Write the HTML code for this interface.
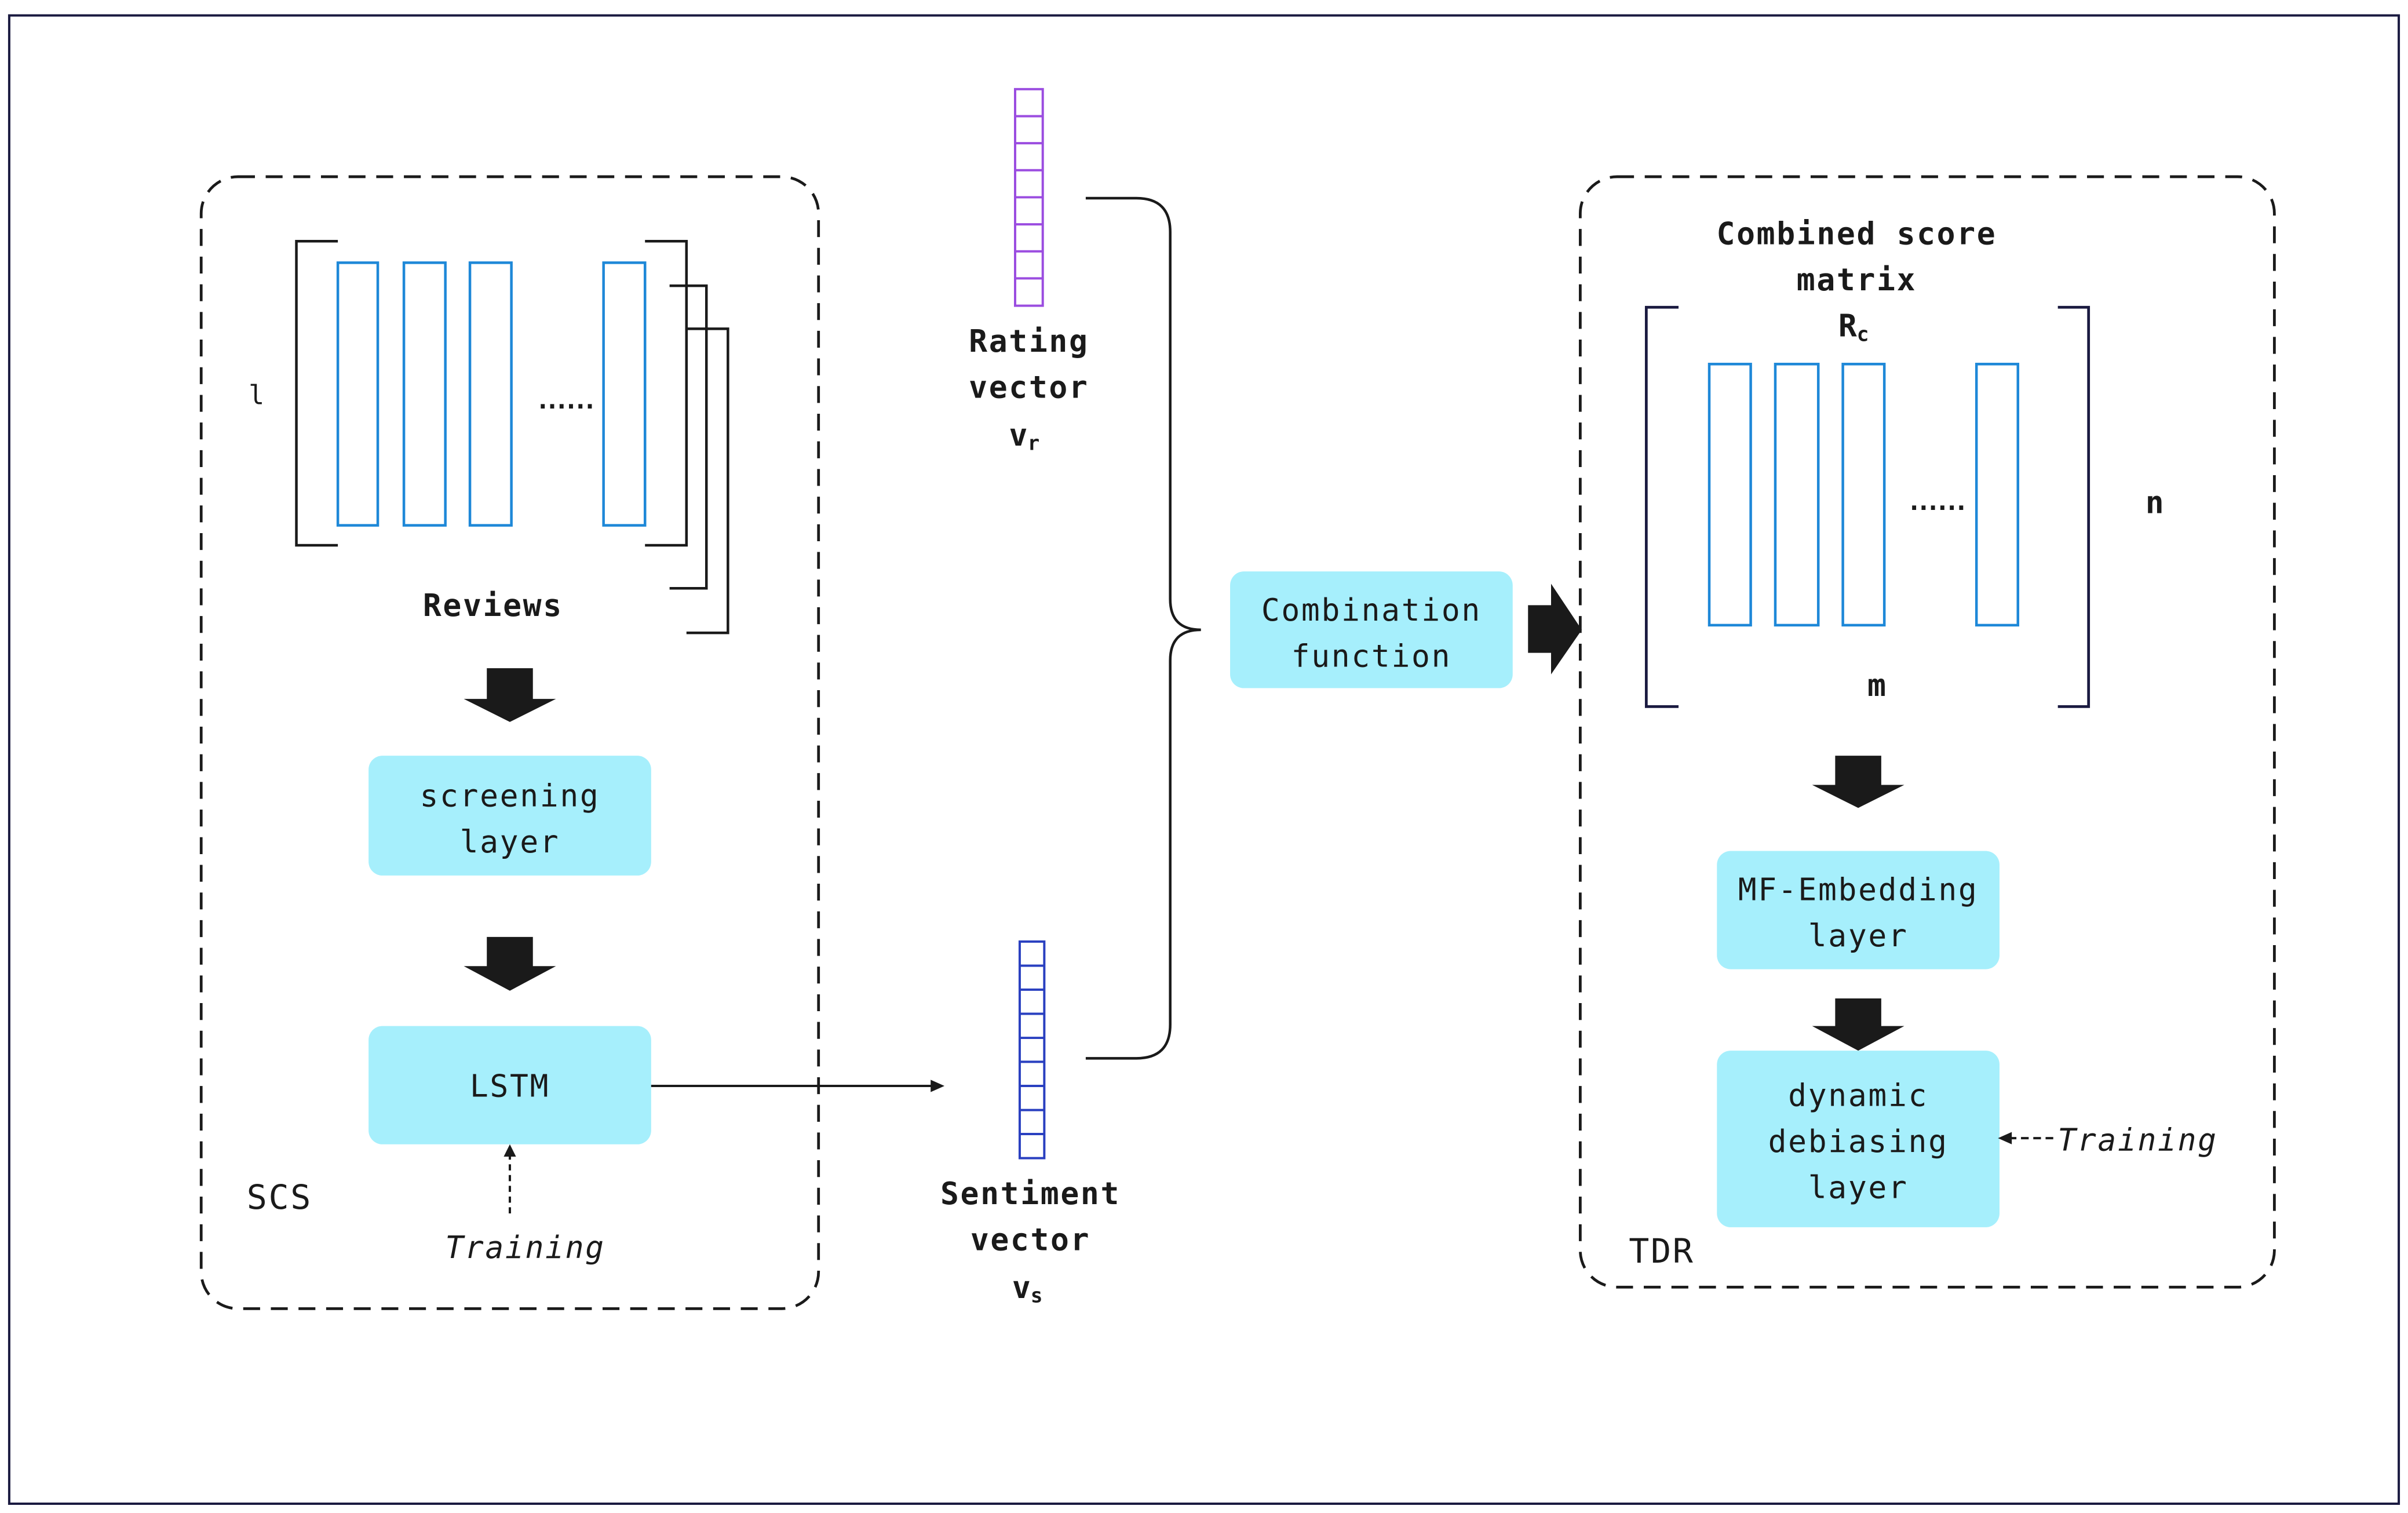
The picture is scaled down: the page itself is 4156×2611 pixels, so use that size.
<!DOCTYPE html>
<html><head><meta charset="utf-8"><style>
html,body{margin:0;padding:0;background:#fff;}
svg{display:block;}
text{font-family:"DejaVu Sans Mono","Liberation Mono",monospace;fill:#1a1a1a;}
.b{letter-spacing:1px;}
.d{letter-spacing:-3.5px;}
</style></head><body>
<svg width="4156" height="2611" viewBox="0 0 1568 985" xmlns="http://www.w3.org/2000/svg">
<rect x="0" y="0" width="1568" height="985" fill="#fff"/>
<rect x="6" y="10" width="1556" height="969" fill="none" stroke="#1a1a40" stroke-width="1.5"/>

<!-- SCS box -->
<rect x="131" y="115" width="402" height="737" rx="24" fill="none" stroke="#1a1a1a" stroke-width="1.8" stroke-dasharray="11,7"/>
<g fill="none" stroke="#1a1a1a" stroke-width="1.7">
<path d="M220 157 H193 V355 H220"/>
<path d="M420 157 H447 V355 H420"/>
<path d="M436 186 H460 V383 H436"/>
<path d="M447 214 H474 V412 H447"/>
</g>
<g fill="none" stroke="#1e88d8" stroke-width="1.7">
<rect x="220" y="171" width="26" height="171"/>
<rect x="263" y="171" width="27" height="171"/>
<rect x="306" y="171" width="27" height="171"/>
<rect x="393" y="171" width="27" height="171"/>
</g>
<text x="167" y="263" font-size="17" text-anchor="middle">l</text>
<text x="367" y="266" font-size="16" text-anchor="middle" font-weight="bold" class="d">......</text>
<text x="321" y="401" font-size="20" text-anchor="middle" font-weight="bold" class="b">Reviews</text>

<path d="M317 435 H347 V455 H362 L332 470 L302 455 H317 Z" fill="#1a1a1a"/>
<path d="M317 610 H347 V629 H362 L332 645 L302 629 H317 Z" fill="#1a1a1a"/>

<rect x="240" y="492" width="184" height="78" rx="9" fill="#a6effc"/>
<text x="332" y="525" font-size="20" text-anchor="middle" class="b">screening</text>
<text x="332" y="555" font-size="20" text-anchor="middle" class="b">layer</text>
<rect x="240" y="668" width="184" height="77" rx="9" fill="#a6effc"/>
<text x="332" y="714" font-size="20" text-anchor="middle" class="b">LSTM</text>
<line x1="332" y1="790" x2="332" y2="752" stroke="#1a1a1a" stroke-width="1.5" stroke-dasharray="4,3"/>
<path d="M332 745 L328 753 H336 Z" fill="#1a1a1a"/>
<text x="342" y="819" font-size="20" text-anchor="middle" font-style="italic" class="b">Training</text>
<text x="182" y="787" font-size="22" text-anchor="middle" class="b">SCS</text>

<line x1="424" y1="707" x2="608" y2="707" stroke="#1a1a1a" stroke-width="1.5"/>
<path d="M615 707 L606 703 V711 Z" fill="#1a1a1a"/>

<g fill="none" stroke="#9b4de0" stroke-width="1.5">
<rect x="661" y="58" width="18" height="141"/>
<path d="M661 75.6H679M661 93.2H679M661 110.8H679M661 128.4H679M661 146H679M661 163.6H679M661 181.2H679"/>
</g>
<text x="670" y="229" font-size="20" text-anchor="middle" font-weight="bold" class="b">Rating</text>
<text x="670" y="259" font-size="20" text-anchor="middle" font-weight="bold" class="b">vector</text>
<text x="667" y="290" font-size="20" text-anchor="middle" font-weight="bold">v<tspan font-size="13" dy="3">r</tspan></text>

<g fill="none" stroke="#2a40c0" stroke-width="1.5">
<rect x="664" y="613" width="16" height="141"/>
<path d="M664 628.7H680M664 644.3H680M664 660H680M664 675.7H680M664 691.3H680M664 707H680M664 722.7H680M664 738.3H680"/>
</g>
<text x="671" y="784" font-size="20" text-anchor="middle" font-weight="bold" class="b">Sentiment</text>
<text x="671" y="814" font-size="20" text-anchor="middle" font-weight="bold" class="b">vector</text>
<text x="669" y="845" font-size="20" text-anchor="middle" font-weight="bold">v<tspan font-size="13" dy="3">s</tspan></text>

<path d="M707 129 H740 Q762 129 762 151 V390 Q762 410 782 410 Q762 410 762 430 V667 Q762 689 740 689 H707" fill="none" stroke="#1a1a1a" stroke-width="1.7"/>

<rect x="801" y="372" width="184" height="76" rx="9" fill="#a6effc"/>
<text x="893" y="404" font-size="20" text-anchor="middle" class="b">Combination</text>
<text x="893" y="434" font-size="20" text-anchor="middle" class="b">function</text>
<path d="M995 394 H1010 V380 L1030 410 L1010 439 V425 H995 Z" fill="#1a1a1a"/>

<rect x="1029" y="115" width="452" height="723" rx="24" fill="none" stroke="#1a1a1a" stroke-width="1.8" stroke-dasharray="11,7"/>
<text x="1209" y="159" font-size="20" text-anchor="middle" font-weight="bold" class="b">Combined score</text>
<text x="1209" y="189" font-size="20" text-anchor="middle" font-weight="bold" class="b">matrix</text>
<text x="1207" y="219" font-size="20" text-anchor="middle" font-weight="bold">R<tspan font-size="13" dy="3">c</tspan></text>
<g fill="none" stroke="#1a1a40" stroke-width="1.8">
<path d="M1093 200 H1072 V460 H1093"/>
<path d="M1340 200 H1360 V460 H1340"/>
</g>
<g fill="none" stroke="#1e88d8" stroke-width="1.7">
<rect x="1113" y="237" width="27" height="170"/>
<rect x="1156" y="237" width="28" height="170"/>
<rect x="1200" y="237" width="27" height="170"/>
<rect x="1287" y="237" width="27" height="170"/>
</g>
<text x="1260" y="332" font-size="16" text-anchor="middle" font-weight="bold" class="d">......</text>
<text x="1403" y="334" font-size="20" text-anchor="middle" font-weight="bold">n</text>
<text x="1222" y="453" font-size="20" text-anchor="middle" font-weight="bold">m</text>

<path d="M1195 492 H1225 V511 H1240 L1210 526 L1180 511 H1195 Z" fill="#1a1a1a"/>
<path d="M1195 650 H1225 V668 H1240 L1210 684 L1180 668 H1195 Z" fill="#1a1a1a"/>

<rect x="1118" y="554" width="184" height="77" rx="9" fill="#a6effc"/>
<text x="1210" y="586" font-size="20" text-anchor="middle" class="b">MF-Embedding</text>
<text x="1210" y="616" font-size="20" text-anchor="middle" class="b">layer</text>
<rect x="1118" y="684" width="184" height="115" rx="9" fill="#a6effc"/>
<text x="1210" y="720" font-size="20" text-anchor="middle" class="b">dynamic</text>
<text x="1210" y="750" font-size="20" text-anchor="middle" class="b">debiasing</text>
<text x="1210" y="780" font-size="20" text-anchor="middle" class="b">layer</text>
<line x1="1337" y1="741" x2="1309" y2="741" stroke="#1a1a1a" stroke-width="1.5" stroke-dasharray="5,3"/>
<path d="M1301 741 L1310 737 V745 Z" fill="#1a1a1a"/>
<text x="1392" y="749" font-size="20" text-anchor="middle" font-style="italic" class="b">Training</text>
<text x="1082" y="822" font-size="22" text-anchor="middle" class="b">TDR</text>
</svg>
</body></html>
